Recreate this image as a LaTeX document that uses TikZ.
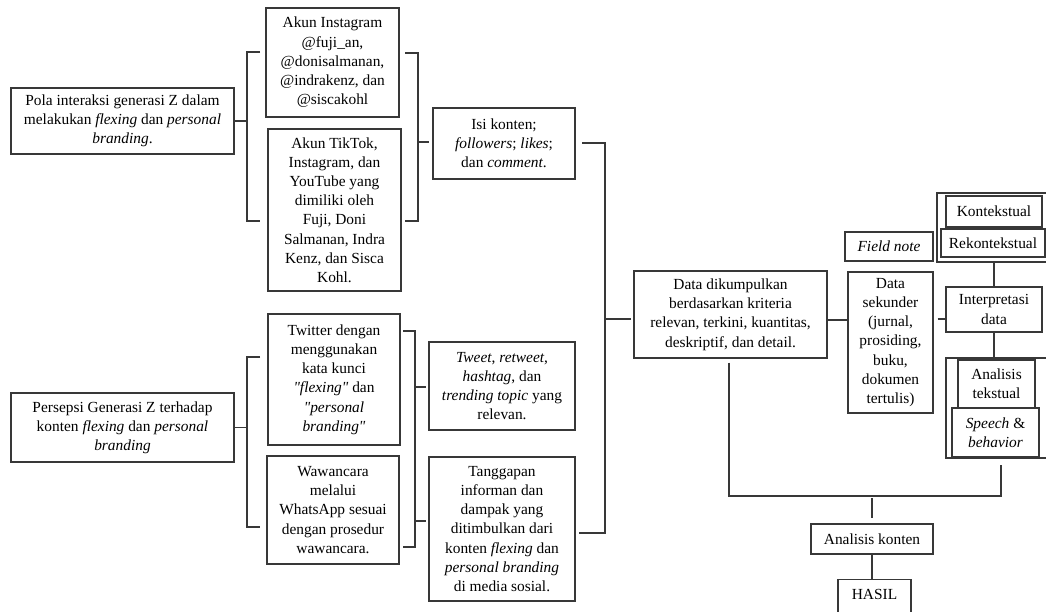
\documentclass[tikz,border=0pt]{standalone}
\usepackage{fontspec}
\setmainfont{Liberation Serif}
\newcommand\mkbox[6]{\node[box, minimum width={#4-#2}, minimum height={#5-#3}] (#1) at ({(#2+#4)/2},{(#3+#5)/2}) {#6};}
\begin{document}
\begin{tikzpicture}[x=1pt,y=-1pt,
  box/.style={draw=black!78, line width=1.2pt, align=center, inner sep=0pt, font=\fontsize{15.4}{19.2}\selectfont},
  ln/.style={draw=black!78, line width=1.2pt}]
\useasboundingbox[fill=white] (0,0) rectangle (1046,611);
% left column
\mkbox{A1}{11}{88}{234}{154}{Pola interaksi generasi Z dalam\\melakukan \textit{flexing} dan \textit{personal}\\\textit{branding}.}
\mkbox{A2}{11}{393}{234}{462}{Persepsi Generasi Z terhadap\\konten \textit{flexing} dan \textit{personal}\\\textit{branding}}
% second column
\mkbox{B1}{266}{8}{399}{117}{Akun Instagram\\@fuji\_an,\\@donisalmanan,\\@indrakenz, dan\\@siscakohl}
\mkbox{B2}{268}{129}{401}{291}{Akun TikTok,\\Instagram, dan\\YouTube yang\\dimiliki oleh\\Fuji, Doni\\Salmanan, Indra\\Kenz, dan Sisca\\Kohl.}
\mkbox{B3}{268}{314}{400}{445}{Twitter dengan\\menggunakan\\kata kunci\\\textit{\textquotedbl flexing\textquotedbl} dan\\\textit{\textquotedbl personal}\\\textit{branding\textquotedbl}}
\mkbox{B4}{267}{456}{399}{564}{Wawancara\\melalui\\WhatsApp sesuai\\dengan prosedur\\wawancara.}
% third column
\mkbox{C1}{433}{108}{575}{179}{Isi konten;\\\textit{followers}; \textit{likes};\\dan \textit{comment}.}
\mkbox{C2}{429}{342}{575}{430}{\textit{Tweet}, \textit{retweet},\\\textit{hashtag}, dan\\\textit{trending topic} yang\\relevan.}
\mkbox{C3}{429}{457}{575}{601}{Tanggapan\\informan dan\\dampak yang\\ditimbulkan dari\\konten \textit{flexing} dan\\\textit{personal branding}\\di media sosial.}
% fourth column
\mkbox{D}{634}{271}{827}{358}{Data dikumpulkan\\berdasarkan kriteria\\relevan, terkini, kuantitas,\\deskriptif, dan detail.}
\mkbox{FN}{845}{232}{933}{261}{\textit{Field note}}
\mkbox{E}{848}{272}{933}{413}{Data\\sekunder\\(jurnal,\\prosiding,\\buku,\\dokumen\\tertulis)}
% right column
\mkbox{G1}{937}{193}{1052}{262}{}
\mkbox{K}{946}{196}{1042}{227}{Kontekstual}
\mkbox{R}{941}{229}{1045}{257}{Rekontekstual}
\mkbox{I}{946}{287}{1042}{332}{Interpretasi\\data}
\mkbox{G2}{946}{358}{1052}{458}{}
\mkbox{AT}{958}{360}{1035}{408}{Analisis\\tekstual}
\mkbox{SB}{952}{408}{1039}{457}{\textit{Speech} \&\\\textit{behavior}}
\mkbox{AK}{811}{524}{933}{554}{Analisis konten}
\node[box, minimum width=73, minimum height=41, anchor=north] (H) at (874.5,579) {\raisebox{11pt}{HASIL}};
% junction coordinates
\coordinate (ja1) at (247,121);
\coordinate (ja1t) at (260,52);
\coordinate (ja1b) at (260,221);
\coordinate (jb1t) at (405,53);
\coordinate (jb1b) at (405,221);
\coordinate (jb1m) at (418,142);
\coordinate (ja2) at (247,427);
\coordinate (ja2t) at (260,357);
\coordinate (ja2b) at (260,527);
\coordinate (jb3t) at (403,331);
\coordinate (jb3b) at (403,547);
\coordinate (jc1) at (582,143);
\coordinate (jc3) at (579,533);
\coordinate (jsp) at (605,319);
\coordinate (jg2) at (1001,465);
\coordinate (jbot) at (729,496);
\coordinate (jak) at (872,498);
% connectors, left part
\draw[ln] (A1.east) -- (A1.east -| ja1);
\draw[ln] (ja1t) -- (ja1t -| ja1) -- (ja1b -| ja1) -- (ja1b);
\draw[ln] (jb1t) -- ++(13,0) -- ([xshift=13pt]jb1b) -- (jb1b);
\draw[ln, shorten >=3pt] (jb1m) -- (jb1m -| C1.west);
\draw[ln] (A2.east) -- (A2.east -| ja2);
\draw[ln] (ja2t) -- (ja2t -| ja2) -- (ja2b -| ja2) -- (ja2b);
\draw[ln] (jb3t) -- ++(12,0) -- ([xshift=12pt]jb3b) -- (jb3b);
\draw[ln, shorten >=2pt] (415,387) -- (415,387 -| C2.west);
\draw[ln, shorten >=2pt] (415,521) -- (415,521 -| C3.west);
% spine to D
\draw[ln] (jc1) -- (jc1 -| jsp) -- (jc3 -| jsp) -- (jc3);
\draw[ln, shorten >=2pt] (jsp) -- (jsp -| D.west);
% D to E to I
\draw[ln] (D.east |- 0,320) -- (E.west |- 0,320);
\draw[ln, shorten <=4pt] (E.east |- 0,319) -- (I.west |- 0,319);
\draw[ln] (I.north) -- (I.north |- G1.south);
\draw[ln] (I.south) -- (I.south |- G2.north);
% bottom
\draw[ln, shorten <=4pt] (D.south -| jbot) -- (jbot) -- (jbot -| jg2) -- (jg2);
\draw[ln, shorten >=5pt] (jak) -- (AK.north);
\draw[ln] (AK.south) -- (AK.south |- H.north);
\end{tikzpicture}
\end{document}
